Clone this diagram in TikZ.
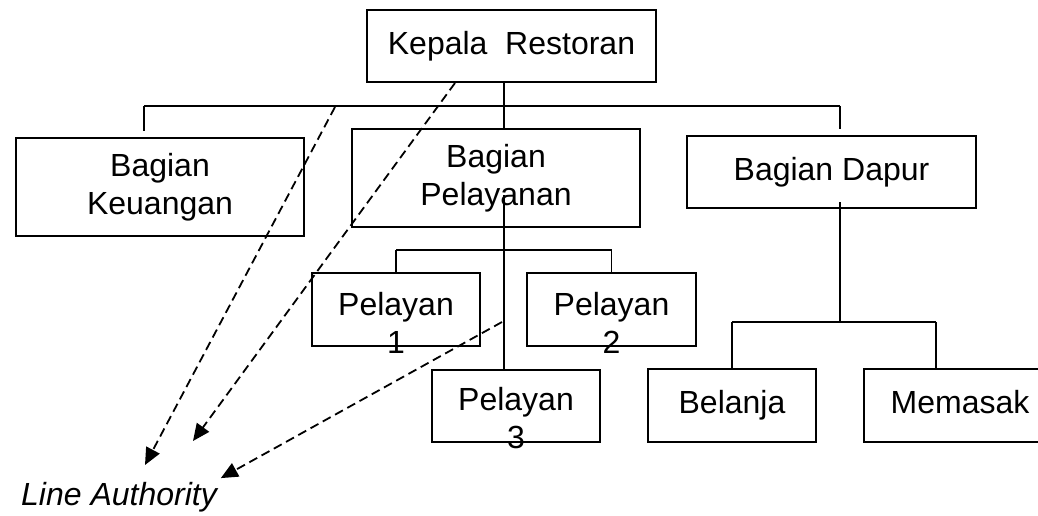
\documentclass[tikz,border=0pt]{standalone}
\usepackage{fontspec}
\setmainfont{Liberation Sans}
\usetikzlibrary{calc}
\usetikzlibrary{arrows.meta}

\begin{document}
\begin{tikzpicture}[x=1pt, y=-1pt, line width=1.3pt,
  box/.style={draw, inner sep=0, align=center, font=\fontsize{32}{38}\selectfont},
  txt/.style={align=center, font=\fontsize{32}{38}\selectfont},
  authority/.style={-{Triangle[length=17pt, width=15pt]}, line width=1.8pt, dash pattern=on 9pt off 5pt}]

\useasboundingbox (0,0) rectangle (1038,516);

\node[box, minimum width=289pt, minimum height=72pt] (kr) at (511.5,46) {Kepala\ \ Restoran};
\node[box, minimum width=288pt, minimum height=98pt] (bk) at (160,187) {Bagian\\Keuangan};
\node[box, minimum width=288pt, minimum height=98pt] (bp) at (496,178) {Bagian\\Pelayanan};
\node[box, minimum width=289pt, minimum height=72pt] (bd) at (831.5,172) {Bagian Dapur};

\node[box, minimum width=168pt, minimum height=73pt, label={[txt, yshift=-13pt]center:Pelayan\\1}] (p1) at (396,309.5) {};
\node[box, minimum width=169pt, minimum height=73pt, label={[txt, yshift=-13pt]center:Pelayan\\2}] (p2) at (611.5,309.5) {};
\node[box, minimum width=168pt, minimum height=72pt, label={[txt, yshift=-12pt]center:Pelayan\\3}] (p3) at (516,406) {};
\node[box, minimum width=168pt, minimum height=73pt] (bl) at (732,405.5) {Belanja};
\node[box, minimum width=192pt, minimum height=73pt, text depth=7pt] (mm) at (960,405.5) {Memasak};

\node[txt, font=\fontsize{32}{38}\selectfont\itshape] (la) at (119,497) {Line Authority};

\coordinate (top) at (504,106);
\coordinate (topl) at (144,106);
\coordinate (topr) at (840,106);
\coordinate (pv) at (504,195);
\coordinate (pbar) at (504,250);
\coordinate (dv) at (840,202);
\coordinate (dbar) at (840,322);

\draw (top |- kr.south) -- (top |- bp.north);
\draw (topl) -- (topr);
\draw (topl) -- ($(topl |- bk.north)+(0,-6)$);
\draw (topr) -- ($(topr |- bd.north)+(0,-6)$);

\draw (pv) -- (pv |- p3.north);
\draw (pbar -| p1.north) -- (pbar -| p2.north);
\draw (pbar -| p1.north) -- (p1.north);
\draw (pbar -| p2.north) -- (p2.north);

\draw (dv) -- (dbar);
\draw (dbar -| bl.north) -- (dbar -| 936,0);
\draw (dbar -| bl.north) -- (bl.north);
\draw (dbar -| 936,0) -- (936,0 |- mm.north);

\coordinate (s1) at (335,107);
\coordinate (s2) at (455,83);
\coordinate (s3) at (502,322);
\coordinate (e1) at (145,465);
\coordinate (e2) at (193,441);

\draw[authority] (s1) -- (e1);
\draw[authority] (s2) -- (e2);
\draw[authority] (s3) -- (la.north east);

\end{tikzpicture}
\end{document}
